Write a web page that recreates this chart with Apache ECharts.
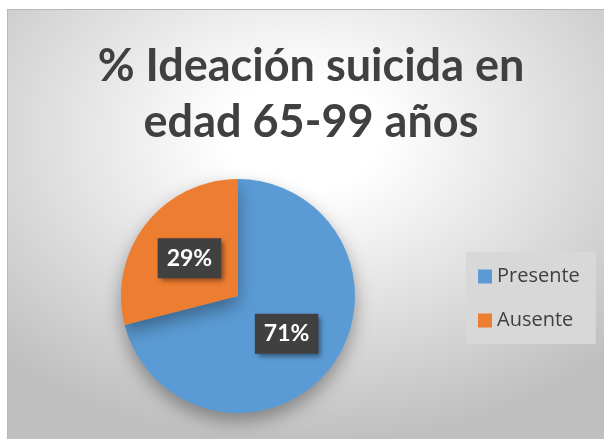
<!DOCTYPE html>
<html>
<head>
<meta charset="utf-8">
<script src="https://cdn.jsdelivr.net/npm/echarts@6/dist/echarts.min.js"></script>
<style>
  html, body { margin: 0; padding: 0; background: #fff; }
  #wrap { position: relative; width: 604px; height: 439px; }
  #bg {
    position: absolute; left: 7px; top: 9px; right: 0; bottom: 0;
    border-left: 1px solid #b8b8b8; border-top: 1px solid #b8b8b8;
    background: radial-gradient(ellipse 430px 310px at 295px 125px, #ffffff 18%, #bfbfbf 100%);
  }
  #chart { position: absolute; left: 0; top: 0; width: 604px; height: 439px; }
</style>
</head>
<body>
<div id="wrap">
  <div id="bg"></div>
  <div id="chart"></div>
</div>
<script>
const titleText = '% Ideación suicida en\nedad 65-99 años';
const categories = ['Presente', 'Ausente'];
const values = [71, 29];
const colors = ['#5b9bd5', '#ed7d31'];

const chart = echarts.init(document.getElementById('chart'));

const option = {
  backgroundColor: 'transparent',
  color: colors,
  title: {
    text: titleText,
    left: 306,
    top: 33,
    textAlign: 'center',
    textStyle: {
      fontFamily: 'Lato',
      fontSize: 45,
      fontWeight: 'bold',
      color: '#404040',
      lineHeight: 56
    }
  },
  legend: {
    orient: 'vertical',
    left: 466,
    top: 252,
    backgroundColor: '#d8d8d8',
    padding: [14, 16, 13, 12],
    itemWidth: 14,
    itemHeight: 14,
    itemGap: 23,
    icon: 'rect',
    data: categories,
    textStyle: {
      fontFamily: 'Open Sans',
      fontSize: 20,
      lineHeight: 21,
      color: '#404040'
    }
  },
  series: [
    {
      type: 'pie',
      center: [238, 296],
      radius: 117,
      startAngle: 90,
      clockwise: true,
      silent: true,
      data: categories.map((c, i) => ({ name: c, value: values[i] })),
      itemStyle: {
        shadowBlur: 18,
        shadowOffsetY: 8,
        shadowColor: 'rgba(0,0,0,0.35)'
      },
      label: {
        show: true,
        position: 'inside',
        formatter: '{d}%',
        fontFamily: 'Lato',
        fontSize: 23,
        fontWeight: 'bold',
        color: '#ffffff',
        backgroundColor: '#404040',
        padding: [9, 9, 8, 9],
        shadowBlur: 5,
        shadowOffsetX: 3,
        shadowOffsetY: 3,
        shadowColor: 'rgba(0,0,0,0.45)'
      },
      labelLine: { show: false }
    }
  ]
};

chart.setOption(option);
</script>
</body>
</html>
